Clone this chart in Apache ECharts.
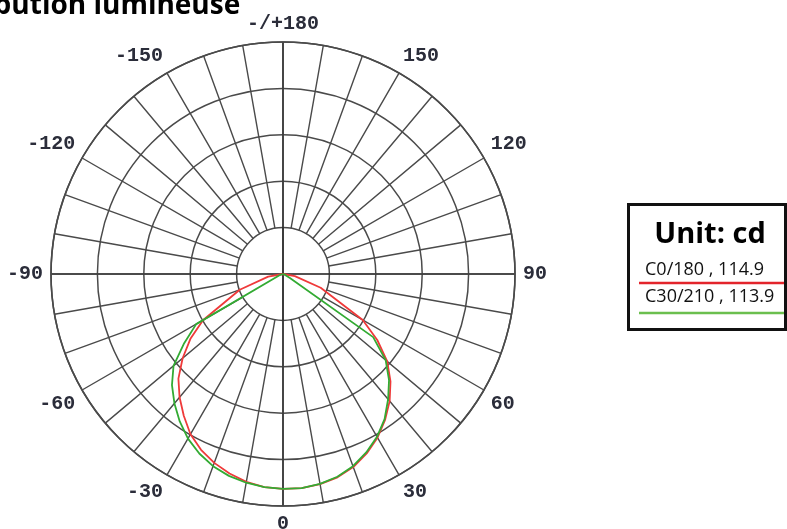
<!DOCTYPE html>
<html>
<head>
<meta charset="utf-8">
<script src="https://cdn.jsdelivr.net/npm/echarts@6/dist/echarts.min.js"></script>
<style>
html,body{margin:0;padding:0;background:#fff;}
#chart{width:787px;height:529px;}
</style>
</head>
<body>
<div id="chart"></div>
<script>
// Angles (degrees, 0 = straight down, +90 = right)
const angles = [-90,-80,-70,-60,-55,-50,-45,-40,-35,-30,-25,-20,-15,-10,-5,0,5,10,15,20,25,30,35,40,45,50,55,60,70,80,90];
// C0/180 intensities (cd)
const redValues = [0,8.1,24.8,49.8,60.9,70.6,79.7,86.7,93.2,99.7,104.5,108.3,111.3,113.7,115.3,115.8,115.8,115.0,113.4,110.7,106.7,101.8,95.9,89.4,81.9,73.3,62.0,49.6,21.6,6.5,0];
// C30/210 intensities (cd)
const greenValues = [0,0.5,2.0,54.0,65.0,77.0,84.6,91.0,97.0,102.4,106.7,110.2,112.6,114.2,115.3,115.8,115.8,114.8,113.1,110.2,106.1,101.3,95.4,88.1,80.8,72.2,59.3,4.3,1.0,0.5,0];
// Angle tick labels
const tickAngles = [-180,-150,-120,-90,-60,-30,0,30,60,90,120,150];
const tickLabels = ['-/+180','-150','-120','-90','-60','-30','0','30','60','90','120','150'];
// Legend entries
const legendNames = ['C0/180 , 114.9','C30/210 , 113.9'];
const unitLabel = 'Unit: cd';
const titleText = 'Distribution lumineuse';

const chart = echarts.init(document.getElementById('chart'), null, {renderer:'canvas'});
const C = [283, 274];
const R = 232;
const gridColor = '#4a4a4a';

const option = {
  backgroundColor: '#ffffff',
  animation: false,
  polar: [
    {center: C, radius: R},
    {center: C, radius: [R * 0.2, R]}
  ],
  angleAxis: [
    {
      polarIndex: 0, type: 'value', min: -180, max: 180, interval: 30,
      startAngle: 90, clockwise: false,
      axisLine: {show: true, lineStyle: {color: gridColor, width: 1.6}},
      axisTick: {show: false},
      axisLabel: {
        show: true, margin: 8, color: '#2b2d3a',
        fontFamily: '"Liberation Mono", "DejaVu Sans Mono", monospace',
        fontWeight: 'bold', fontSize: 20,
        formatter: function (v) {
          const i = tickAngles.indexOf(v);
          return i >= 0 ? tickLabels[i] : '';
        }
      },
      splitLine: {show: true, lineStyle: {color: ['#1a1a1a', 'rgba(0,0,0,0)', 'rgba(0,0,0,0)'], width: 1.7}}
    },
    {
      polarIndex: 1, type: 'value', min: -180, max: 180, interval: 10,
      startAngle: 90, clockwise: false,
      axisLine: {show: false}, axisTick: {show: false}, axisLabel: {show: false},
      splitLine: {show: true, lineStyle: {color: gridColor, width: 1.4}}
    }
  ],
  radiusAxis: [
    {
      polarIndex: 0, type: 'value', min: 0, max: 125, interval: 25,
      axisLine: {show: false}, axisTick: {show: false}, axisLabel: {show: false},
      splitLine: {show: true, lineStyle: {color: gridColor, width: 1.5}}
    },
    {
      polarIndex: 1, type: 'value', min: 0, max: 125, interval: 25,
      axisLine: {show: false}, axisTick: {show: false}, axisLabel: {show: false},
      splitLine: {show: false}
    }
  ],
  series: [
    {
      name: legendNames[0], type: 'line', coordinateSystem: 'polar', polarIndex: 0,
      data: angles.map((a, i) => [redValues[i], a]),
      symbol: 'none', smooth: false,
      lineStyle: {color: '#ef3a3a', width: 1.8}, z: 5
    },
    {
      name: legendNames[1], type: 'line', coordinateSystem: 'polar', polarIndex: 0,
      data: angles.map((a, i) => [greenValues[i], a]),
      symbol: 'none', smooth: false,
      lineStyle: {color: '#33ab33', width: 1.8}, z: 6
    }
  ],
  graphic: [
    {
      type: 'text', x: -83, y: 6, z: 10,
      style: {text: titleText, fill: '#000', font: 'bold 28px "Open Sans", sans-serif', align: 'left', verticalAlign: 'middle'}
    },
    {
      type: 'rect', z: 10,
      shape: {x: 628.5, y: 204.5, width: 157, height: 125},
      style: {fill: '#fff', stroke: '#111', lineWidth: 3}
    },
    {
      type: 'text', x: 710, y: 234.5, z: 11,
      style: {text: unitLabel, fill: '#000', font: 'bold 29px "Open Sans", sans-serif', align: 'center', verticalAlign: 'middle'}
    },
    {
      type: 'text', x: 645, y: 270.3, z: 11,
      style: {text: legendNames[0], fill: '#111', font: '18px "Open Sans", sans-serif', align: 'left', verticalAlign: 'middle'}
    },
    {
      type: 'line', z: 11,
      shape: {x1: 639, y1: 283, x2: 784, y2: 283},
      style: {stroke: '#e3242b', lineWidth: 2.5}
    },
    {
      type: 'text', x: 645, y: 296.8, z: 11,
      style: {text: legendNames[1], fill: '#111', font: '18px "Open Sans", sans-serif', align: 'left', verticalAlign: 'middle'}
    },
    {
      type: 'line', z: 11,
      shape: {x1: 639, y1: 313, x2: 784, y2: 313},
      style: {stroke: '#6bbf4e', lineWidth: 2.5}
    }
  ]
};
chart.setOption(option);
</script>
</body>
</html>
